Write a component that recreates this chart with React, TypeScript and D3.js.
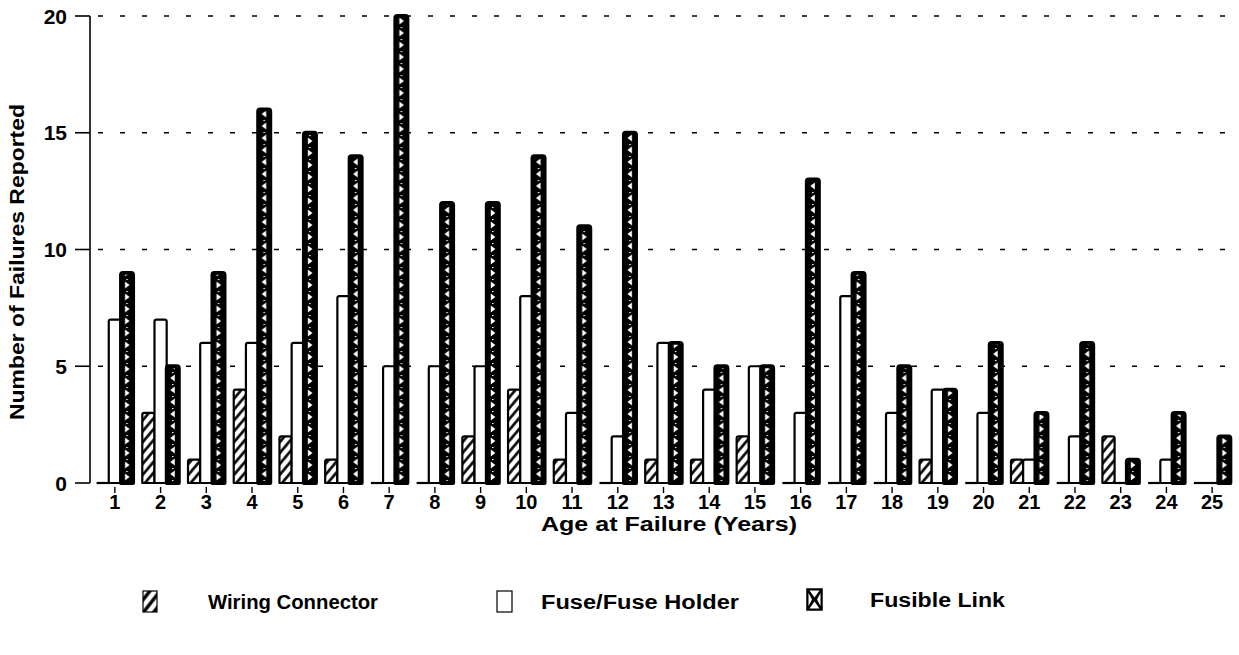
import React from "react";
import * as d3 from "d3";

const categories: string[] = Array.from({ length: 25 }, (_, i) => String(i + 1));
const wiringConnector: number[] = [0, 3, 1, 4, 2, 1, 0, 0, 2, 4, 1, 0, 1, 1, 2, 0, 0, 0, 1, 0, 1, 0, 2, 0, 0];
const fuseHolder: number[] = [7, 7, 6, 6, 6, 8, 5, 5, 5, 8, 3, 2, 6, 4, 5, 3, 8, 3, 4, 3, 1, 2, 0, 1, 0];
const fusibleLink: number[] = [9, 5, 9, 16, 15, 14, 20, 12, 12, 14, 11, 15, 6, 5, 5, 13, 9, 5, 4, 6, 3, 6, 1, 3, 2];
const yTicks: number[] = [0, 5, 10, 15, 20];
const seriesKeys = ["wiring", "fuse", "link"];
const seriesLabels = ["Wiring Connector", "Fuse/Fuse Holder", "Fusible Link"];

const W = 1239;
const H = 655;
const FONT = "'Liberation Sans', Arial, sans-serif";

export default function App() {
  const y = d3.scaleLinear().domain([0, 20]).range([483, 16]);
  const x = d3
    .scaleBand<string>()
    .domain(categories)
    .range([92, 1235])
    .paddingInner(0.2)
    .paddingOuter(0.1);
  const sub = d3.scaleBand<string>().domain(seriesKeys).range([0, x.bandwidth()]);
  const step = x.step();
  const sw = sub.bandwidth();
  const linkOff = ((x(categories[0])! + sub("link")!) % step + step) % step;

  const data = categories.map((c, i) => ({
    c,
    vals: [wiringConnector[i], fuseHolder[i], fusibleLink[i]],
  }));

  const barPath = (x0: number, w: number, v: number) => {
    const y0 = y(0);
    const y1 = y(v);
    if (v === 0) return `M${x0},${y0}H${x0 + w}`;
    const r = 2;
    return `M${x0},${y0}V${y1 + r}Q${x0},${y1} ${x0 + r},${y1}H${x0 + w - r}Q${x0 + w},${y1} ${x0 + w},${y1 + r}V${y0}Z`;
  };

  const cx = linkOff + sw / 2;
  const triPath = (yy: number, right: boolean) =>
    right
      ? `M${cx - 2},${yy - 3.5}L${cx + 2.5},${yy}L${cx - 2},${yy + 3.5}Z`
      : `M${cx + 2},${yy - 3.5}L${cx - 2.5},${yy}L${cx + 2},${yy + 3.5}Z`;

  const lx = 807, ly = 589, lw = 15, lh = 21;

  return (
    <svg
      width={W}
      height={H}
      style={{ position: "absolute", left: 0, top: 0, background: "#fff" }}
      fontFamily={FONT}
    >
      <defs>
        <pattern id="hatch" patternUnits="userSpaceOnUse" width={7} height={7} patternTransform="rotate(40)">
          <rect width={7} height={7} fill="#fff" />
          <line x1={1.5} y1={0} x2={1.5} y2={7} stroke="#000" strokeWidth={2.6} />
        </pattern>
        <pattern id="hatchL" patternUnits="userSpaceOnUse" width={8} height={8} patternTransform="rotate(38)">
          <rect width={8} height={8} fill="#fff" />
          <line x1={2} y1={0} x2={2} y2={8} stroke="#000" strokeWidth={3.4} />
        </pattern>
        <pattern id="linkpat" patternUnits="userSpaceOnUse" x={0} y={y(0)} width={step} height={12}>
          <rect width={step} height={12} fill="#000" />
          <path d={triPath(6, true)} fill="#fff" />
          <circle cx={cx} cy={0.5} r={0.8} fill="#fff" />
        </pattern>
        <pattern id="linkpat2" patternUnits="userSpaceOnUse" x={0} y={0} width={step} height={12}>
          <rect width={step} height={12} fill="#000" />
          <path d={triPath(6, false)} fill="#fff" />
          <circle cx={cx} cy={0.5} r={0.8} fill="#fff" />
        </pattern>
      </defs>

      {/* gridlines */}
      {yTicks.filter((t) => t > 0).map((t) => (
        <line key={t} x1={98} x2={1232} y1={y(t)} y2={y(t)} stroke="#000" strokeWidth={1.6} strokeDasharray="5,17" />
      ))}

      {/* y axis */}
      <line x1={90} x2={90} y1={y(20)} y2={y(0)} stroke="#000" strokeWidth={1.6} />
      {yTicks.map((t) => (
        <g key={t}>
          <line x1={75} x2={90} y1={y(t)} y2={y(t)} stroke="#000" strokeWidth={1.6} />
          <text x={67} y={y(t)} dy="0.36em" textAnchor="end" fontSize={21} fontWeight="bold">
            {t}
          </text>
        </g>
      ))}
      <text
        transform={`translate(24,${262}) rotate(-90)`}
        textAnchor="middle"
        fontSize={20}
        fontWeight="bold"
        textLength={316}
        lengthAdjust="spacingAndGlyphs"
      >
        Number of Failures Reported
      </text>

      {/* bars */}
      {data.map((d, i) => {
        const gx = x(d.c)!;
        return (
          <g key={d.c}>
            {d.vals.map((v, k) => {
              const bx = gx + sub(seriesKeys[k])!;
              const fill = k === 0 ? "url(#hatch)" : k === 1 ? "#fff" : i % 2 === 0 ? "url(#linkpat)" : "url(#linkpat2)";
              return (
                <path
                  key={k}
                  d={barPath(bx, sw, v)}
                  fill={fill}
                  stroke="#000"
                  strokeWidth={k === 2 ? 3.8 : 2.2}
                  strokeLinejoin="round"
                />
              );
            })}
          </g>
        );
      })}

      {/* x ticks */}
      {categories.map((c) => {
        const cxx = x(c)! + x.bandwidth() / 2;
        return (
          <g key={c}>
            <line x1={cxx} x2={cxx} y1={487} y2={493} stroke="#000" strokeWidth={1.4} />
            <text x={cxx} y={509} textAnchor="middle" fontSize={20} fontWeight="bold">
              {c}
            </text>
          </g>
        );
      })}
      <text
        x={541}
        y={531}
        fontSize={20}
        fontWeight="bold"
        textLength={256}
        lengthAdjust="spacingAndGlyphs"
      >
        Age at Failure (Years)
      </text>

      {/* legend */}
      <g>
        <rect x={143} y={591} width={14} height={21} fill="url(#hatchL)" stroke="#000" strokeWidth={1.2} />
        <text x={208} y={609} fontSize={20} fontWeight="bold" textLength={170} lengthAdjust="spacingAndGlyphs">
          {seriesLabels[0]}
        </text>
        <rect x={497} y={591} width={15} height={21} fill="#fff" stroke="#000" strokeWidth={1.2} />
        <text x={541} y={609} fontSize={20} fontWeight="bold" textLength={198} lengthAdjust="spacingAndGlyphs">
          {seriesLabels[1]}
        </text>
        <rect x={lx} y={ly} width={lw} height={lh} fill="#000" stroke="#000" strokeWidth={1.5} />
        <path
          d={`M${lx + 2.5},${ly + 1.5}H${lx + lw - 2.5}L${lx + lw / 2},${ly + lh / 2 - 2}Z
              M${lx + 2.5},${ly + lh - 1.5}H${lx + lw - 2.5}L${lx + lw / 2},${ly + lh / 2 + 2}Z
              M${lx + 1.5},${ly + 4}V${ly + lh - 4}L${lx + lw / 2 - 2.5},${ly + lh / 2}Z
              M${lx + lw - 1.5},${ly + 4}V${ly + lh - 4}L${lx + lw / 2 + 2.5},${ly + lh / 2}Z`}
          fill="#fff"
        />
        <text x={870} y={607} fontSize={20} fontWeight="bold" textLength={135} lengthAdjust="spacingAndGlyphs">
          {seriesLabels[2]}
        </text>
      </g>
    </svg>
  );
}
